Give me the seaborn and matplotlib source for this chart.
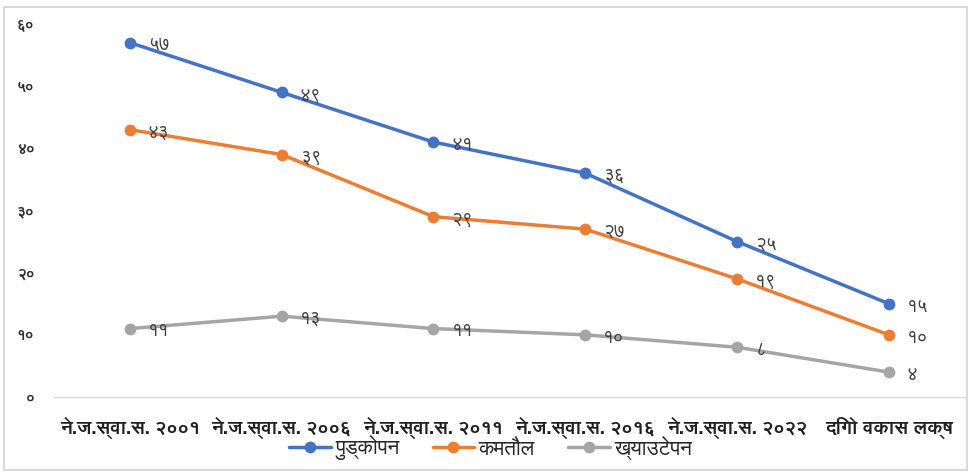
import matplotlib
matplotlib.use('Agg')
import matplotlib.pyplot as plt
from matplotlib import font_manager
from matplotlib.patches import Rectangle
import seaborn as sns
import pandas as pd

# data
categories = ['ने.ज.स्वा.स. २००१', 'ने.ज.स्वा.स. २००६', 'ने.ज.स्वा.स. २०११',
              'ने.ज.स्वा.स. २०१६', 'ने.ज.स्वा.स. २०२२', 'दिगो वकास लक्ष']
series_names = ['पुड्कोपन', 'कमतौल', 'ख्याउटेपन']
stunting = [57, 49, 41, 36, 25, 15]
underweight = [43, 39, 29, 27, 19, 10]
wasting = [11, 13, 11, 10, 8, 4]
y_ticks = [0, 10, 20, 30, 40, 50, 60]

colors = ['#4472C4', '#ED7D31', '#A5A5A5']

# find fonts that have Devanagari glyphs, prefer proportional sans
deva_fonts = []
try:
    from fontTools.ttLib import TTFont
    for f in font_manager.fontManager.ttflist:
        try:
            cmap = TTFont(f.fname, fontNumber=0, lazy=True).getBestCmap()
            if cmap and ord('क') in cmap and f.name not in deva_fonts:
                deva_fonts.append(f.name)
        except Exception:
            pass
except Exception:
    pass
preferred = ['FreeSans', 'FreeSerif']
deva_fonts = [f for f in preferred if f in deva_fonts] + \
             [f for f in deva_fonts if f not in preferred and 'Unifont' not in f and 'Mono' not in f]

deva_digits = str.maketrans('0123456789', '०१२३४५६७८९')


def to_deva(n):
    return str(n).translate(deva_digits)


sns.set_theme(style='white')
plt.rcParams['font.family'] = deva_fonts + ['DejaVu Sans']

df = pd.DataFrame({
    'pos': list(range(len(categories))) * 3,
    'value': stunting + underweight + wasting,
    'series': [s for s in series_names for _ in categories],
})

fig = plt.figure(figsize=(9.71, 4.73), dpi=100)
ax = fig.add_axes([0.0556, 0.1607, 0.938, 0.7886])

sns.lineplot(data=df, x='pos', y='value', hue='series', hue_order=series_names,
             palette=colors, marker='o', markersize=8.5, markeredgewidth=0,
             linewidth=2.5, ax=ax)

# data labels to the right of each point
for name, vals, c in zip(series_names, [stunting, underweight, wasting], colors):
    for i, v in enumerate(vals):
        ax.annotate(to_deva(v), (i, v), xytext=(13, -2), textcoords='offset points',
                    ha='left', va='center', fontsize=13.5, color='#404040')

ax.set_xlim(-0.5, len(categories) - 0.5)
ax.set_ylim(0, 60)
ax.set_xticks(range(len(categories)))
ax.set_xticklabels(categories, fontsize=14, fontweight='bold', color='#202020')
ax.set_yticks(y_ticks)
ax.set_yticklabels([to_deva(t) for t in y_ticks], fontsize=11, fontweight='bold',
                   color='#303030')
ax.tick_params(axis='x', length=0, pad=14)
ax.tick_params(axis='y', length=0, pad=14)
ax.set_xlabel('')
ax.set_ylabel('')
for side in ['top', 'right', 'left']:
    ax.spines[side].set_visible(False)
ax.spines['bottom'].set_color('#D9D9D9')
ax.spines['bottom'].set_linewidth(1)

handles, labels = ax.get_legend_handles_labels()
ax.legend(handles, labels, loc='center', bbox_to_anchor=(0.505, 0.053),
          bbox_transform=fig.transFigure, ncol=3, frameon=False, fontsize=15,
          handlelength=2.0, columnspacing=1.6, handletextpad=0.2)

fig.patches.append(Rectangle((0.004, 0.006), 0.992, 0.98, transform=fig.transFigure,
                             fill=False, edgecolor='#D9D9D9', linewidth=1.5))

plt.savefig('out.png', dpi=100)
